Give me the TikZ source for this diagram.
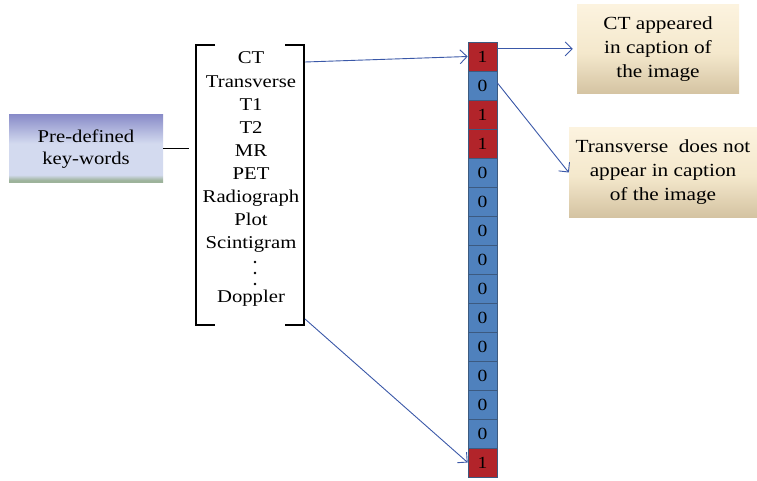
\documentclass[tikz,border=0pt]{standalone}
\usepackage{fontspec}
\setmainfont{Liberation Serif}[FakeStretch=1.15]
\usetikzlibrary{arrows.meta}
\definecolor{cellred}{HTML}{B2242A}
\definecolor{cellblue}{HTML}{4F81BD}
\definecolor{cellline}{HTML}{3C5A80}
\definecolor{arrowblue}{HTML}{3A58A8}
\definecolor{keytop}{HTML}{8A8DC9}
\definecolor{keymid}{HTML}{D3DAEF}
\definecolor{keybot}{HTML}{9DB39B}
\definecolor{notetop}{HTML}{FCF3DF}
\definecolor{notemid}{HTML}{F4E8CC}
\definecolor{notebot}{HTML}{D4C3A2}
\pgfdeclareverticalshading{keyshade}{100bp}{color(0bp)=(keybot); color(27bp)=(keybot); color(31bp)=(keymid); color(54bp)=(keymid); color(75bp)=(keytop); color(100bp)=(keytop)}
\pgfdeclareverticalshading{noteshade}{100bp}{color(0bp)=(notebot); color(25bp)=(notebot); color(48bp)=(notemid); color(75bp)=(notetop); color(100bp)=(notetop)}
\begin{document}
\begin{tikzpicture}[x=1pt,y=-1pt,
  word/.style={font=\fontsize{18}{21}\selectfont,inner sep=0pt,anchor=base},
  keybox/.style={shading=keyshade,align=center,inner sep=0pt,font=\fontsize{18}{21.5}\selectfont},
  note/.style={shading=noteshade,align=center,inner sep=0pt,font=\fontsize{18.5}{24}\selectfont},
  bit/.style={draw=cellline,line width=0.7pt,minimum width=29pt,minimum height=29pt,inner sep=0pt,font=\fontsize{17}{17}\selectfont},
  val0/.style={fill=cellblue},
  val1/.style={fill=cellred},
  link/.style={arrowblue,line width=0.9pt,-{Straight Barb[length=7pt,width=14pt]}}]
\useasboundingbox (0,0) rectangle (757,481);
\node[keybox,minimum width=154pt,minimum height=68pt] (keys) at (86,149) {Pre-defined\\key-words};
\coordinate (lb) at (189,149);
\draw[line width=1pt] (keys.east) -- (lb);
\draw[line width=1.2pt] (215,45) -- (196,45) -- (196,325) -- (215,325);
\draw[line width=1.2pt] (285,45) -- (304,45) -- (304,325) -- (285,325);
\foreach \w [count=\i] in {CT,Transverse,T1,T2,MR,PET,Radiograph,Plot,Scintigram}
  \node[word] (w\i) at (251,{64+23.1*(\i-1)}) {\w};
\foreach \y in {262,273,284}
  \fill (255,\y) circle (1.3pt);
\node[word] (w10) at (251,302) {Doppler};
\foreach \b [count=\i] in {1,0,1,1,0,0,0,0,0,0,0,0,0,0,1}
  \node[bit,val\b] (c\i) at (482.5,{27.5+29*\i}) {\b};
\node[note,minimum width=162pt,minimum height=89pt] (note1) at (658,49.5) {CT appeared\\in caption of\\the image};
\node[note,minimum width=188pt,minimum height=89pt] (note2) at (663,172.5) {Transverse\ \ does not\\appear in caption\\of the image};
\coordinate (top) at (305,62);
\coordinate (bot) at (305,319);
\draw[link] (top) -- (c1.west);
\draw[link] (bot) -- (c15.west);
\draw[link,shorten >=4pt] (c1.27) -- (c1.27 -| note1.west);
\draw[link] (c2.10) -- (note2.west);
\end{tikzpicture}
\end{document}
